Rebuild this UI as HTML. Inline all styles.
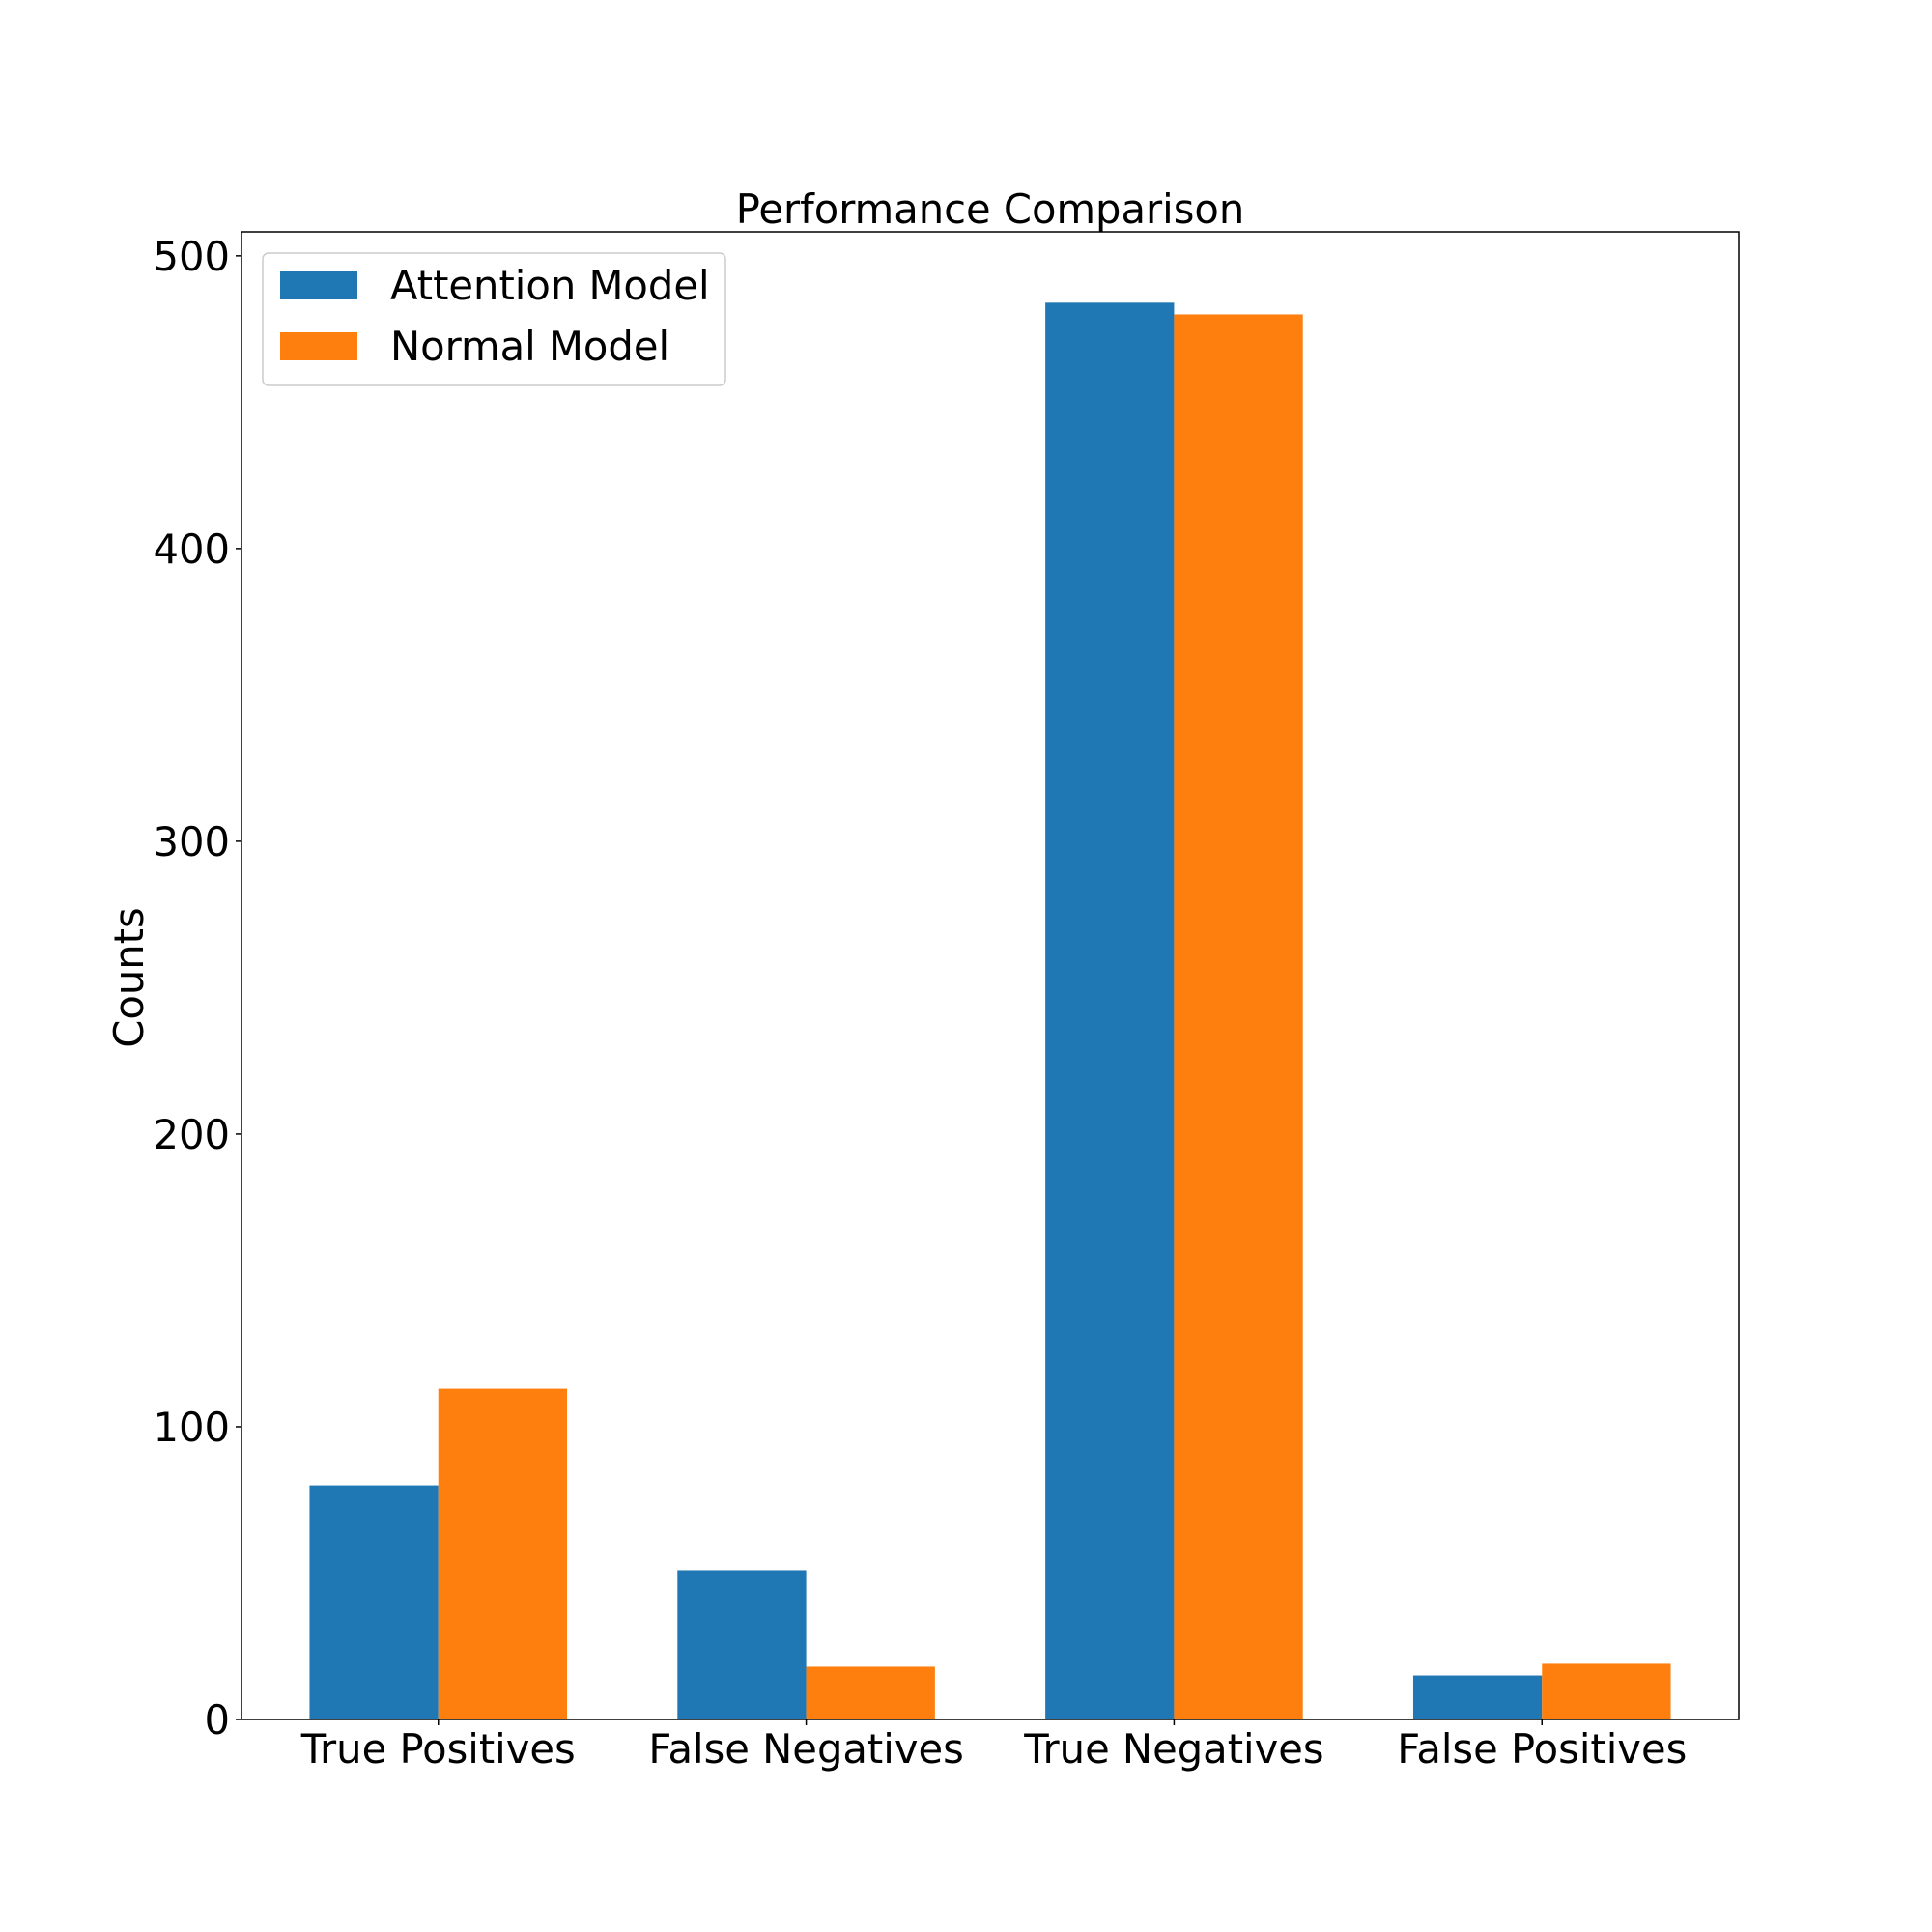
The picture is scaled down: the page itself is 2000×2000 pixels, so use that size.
<!DOCTYPE html>
<html><head><meta charset="utf-8"><style>
html,body{margin:0;padding:0;background:#fff;}
svg{display:block;font-family:"DejaVu Sans","Liberation Sans",sans-serif;}
</style></head><body>
<svg id="chart" width="2000" height="2000" viewBox="0 0 2000 2000"></svg>
<script>
const categories = ["True Positives","False Negatives","True Negatives","False Positives"];
const attentionValues = [80, 51, 484, 15];
const normalValues = [113, 18, 480, 19];
const yTicks = [0, 100, 200, 300, 400, 500];
const seriesNames = ["Attention Model", "Normal Model"];

const L=250, R=1800, T=240, B=1780;
const xMin=-0.535, xMax=3.535, yMin=0, yMax=508.2;
const W=0.35;
const FS=41.67;
const sx=v=>L+(v-xMin)/(xMax-xMin)*(R-L);
const sy=v=>B-(v-yMin)/(yMax-yMin)*(B-T);
const svg=document.getElementById('chart');
const NS='http://www.w3.org/2000/svg';
function mk(tag, attrs, parent){const e=document.createElementNS(NS,tag);for(const k in attrs)e.setAttribute(k,attrs[k]);(parent||svg).appendChild(e);return e;}

const colors=["#1f77b4","#ff7f0e"];
const series=[attentionValues, normalValues];
series.forEach((vals,s)=>{
  vals.forEach((v,i)=>{
    const x0=s===0? i-W : i;
    const r=mk('rect',{x:sx(x0),y:sy(v),width:sx(x0+W)-sx(x0),height:sy(0)-sy(v),fill:colors[s]});
    
    
  });
});

const frame=mk('rect',{x:L,y:T,width:R-L,height:B-T,fill:'none',stroke:'#000','stroke-width':1.5});



yTicks.forEach(t=>{
  const y=sy(t);
  const tk=mk('line',{x1:L-6,x2:L,y1:y,y2:y,stroke:'#000','stroke-width':1.5});
  
  
  const lb=mk('text',{x:L-12,y:y+15,'text-anchor':'end','font-size':FS});
  lb.textContent=t;
  
  
});
categories.forEach((c,i)=>{
  const x=sx(i);
  const tk=mk('line',{x1:x,x2:x,y1:B,y2:B+6,stroke:'#000','stroke-width':1.5});
  
  
  const lb=mk('text',{x:x,y:B+45,'text-anchor':'middle','font-size':FS});
  lb.textContent=c;
  
  
});

const title=mk('text',{x:(L+R)/2,y:231,'text-anchor':'middle','font-size':FS});
title.textContent='Performance Comparison';



const yl=mk('text',{x:0,y:0,'text-anchor':'middle','font-size':FS,transform:'translate(148,1012) rotate(-90)'});
yl.textContent='Counts';



const lg=mk('g',{});


mk('rect',{x:272,y:262,width:479,height:137,rx:6,fill:'#fff',stroke:'#ccc','stroke-width':1.5},lg);
seriesNames.forEach((n,s)=>{
  const y=281+s*63;
  const p=mk('rect',{x:290,y:y,width:80,height:29,fill:colors[s]},lg);
  
  
  const t=mk('text',{x:404,y:y+29,'font-size':FS},lg);
  t.textContent=n;
  
  
});
</script>
</body></html>
